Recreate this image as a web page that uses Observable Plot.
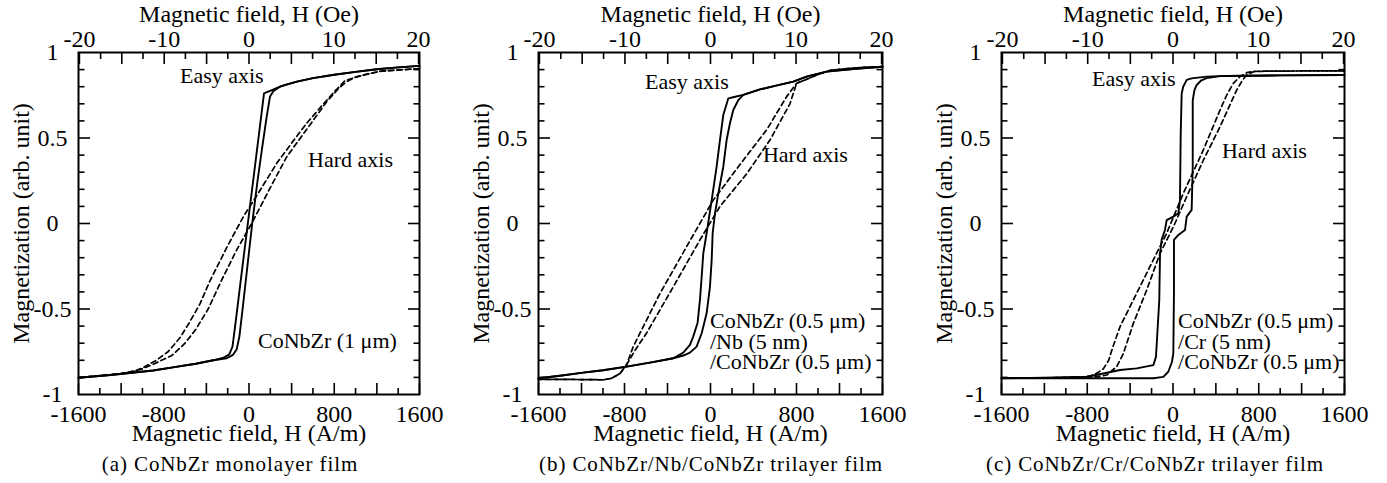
<!DOCTYPE html>
<html><head><meta charset="utf-8">
<script src="https://cdn.jsdelivr.net/npm/d3@7"></script>
<script src="https://cdn.jsdelivr.net/npm/@observablehq/plot@0.6"></script>
<style>
html,body{margin:0;padding:0;background:#fff;}
#wrap{position:relative;width:1387px;height:483px;overflow:hidden;background:#fff;}
.panel{position:absolute;top:0;}
.cap{position:absolute;top:454px;font-family:"Liberation Serif",serif;font-size:21px;line-height:21px;letter-spacing:0.9px;white-space:nowrap;transform:translateX(-50%);color:#000;}
</style></head><body><div id="wrap"></div>
<script>
// ---------- axis text ----------
const xTitleBottom = "Magnetic field, H (A/m)";
const xTitleTop = "Magnetic field, H (Oe)";
const yTitle = "Magnetization (arb. unit)";
const OE = 1000 / (4 * Math.PI); // A/m per Oe

const bottomLabels = [-1600, -800, 0, 800, 1600];
const bottomMajor = [-1600, -1200, -800, -400, 0, 400, 800, 1200, 1600];
const bottomMinor = [-1400, -1000, -600, -200, 200, 600, 1000, 1400];
const topLabels = [-20, -10, 0, 10, 20];
const topMajor = [-20, -15, -10, -5, 0, 5, 10, 15, 20];
const topMinor = [-17.5, -12.5, -7.5, -2.5, 2.5, 7.5, 12.5, 17.5];
const yLabels = [-1, -0.5, 0, 0.5, 1];
const yMajor = [-0.5, 0, 0.5];
const yMinor = [-0.9, -0.8, -0.7, -0.6, -0.4, -0.3, -0.2, -0.1, 0.1, 0.2, 0.3, 0.4, 0.6, 0.7, 0.8, 0.9];

// ---------- panel (a) CoNbZr monolayer: [H (A/m), M] ----------
const aEasyDown = [[1600,0.922],[1400,0.913],[1200,0.902],[1000,0.887],[800,0.870],[600,0.850],[450,0.830],[350,0.812],[291,0.800],[220,0.782],[141,0.761],[93,0.52],[45,0.28],[-11,0],[-83,-0.36],[-120,-0.55],[-155,-0.72],[-185,-0.765],[-240,-0.785],[-335,-0.80],[-500,-0.82],[-700,-0.84],[-900,-0.86],[-1100,-0.873],[-1300,-0.886],[-1600,-0.902]];
const aEasyUp = [[-1600,-0.902],[-1300,-0.886],[-1100,-0.873],[-900,-0.86],[-700,-0.84],[-500,-0.82],[-335,-0.80],[-209,-0.788],[-150,-0.768],[-115,-0.735],[-90,-0.66],[-60,-0.50],[-15,-0.25],[30,0],[80,0.25],[125,0.45],[165,0.62],[197,0.742],[230,0.775],[291,0.80],[350,0.812],[450,0.830],[600,0.850],[800,0.870],[1000,0.887],[1200,0.902],[1400,0.913],[1600,0.922]];
const aHardDown = [[1600,0.905],[1400,0.898],[1230,0.89],[1100,0.872],[1000,0.856],[901,0.835],[800,0.77],[700,0.70],[541,0.586],[400,0.47],[260,0.352],[100,0.19],[-53,0.04],[-200,-0.13],[-370,-0.34],[-460,-0.47],[-560,-0.58],[-650,-0.67],[-760,-0.75],[-870,-0.80],[-1000,-0.845],[-1070,-0.862],[-1200,-0.878],[-1400,-0.89],[-1600,-0.902]];
const aHardUp = [[-1600,-0.902],[-1400,-0.89],[-1200,-0.878],[-1070,-0.862],[-1000,-0.85],[-870,-0.815],[-720,-0.77],[-600,-0.70],[-500,-0.62],[-383,-0.50],[-256,-0.33],[-120,-0.16],[25,0],[200,0.21],[354,0.39],[541,0.55],[729,0.712],[840,0.79],[917,0.83],[1000,0.856],[1100,0.872],[1230,0.89],[1400,0.898],[1600,0.905]];
const aNotes = [
  {H: -648, M: 0.822, label: "Easy axis"},
  {H: 554, M: 0.333, label: "Hard axis"},
  {H: 84, M: -0.728, label: "CoNbZr (1 μm)"}
];

// ---------- panel (b) CoNbZr/Nb/CoNbZr ----------
const bEasyDown = [[1600,0.917],[1350,0.905],[1081,0.888],[900,0.86],[770,0.83],[600,0.805],[460,0.784],[305,0.752],[220,0.74],[166,0.732],[119,0.634],[88,0.488],[57,0.332],[11,0.137],[-36,-0.057],[-67,-0.174],[-82,-0.311],[-98,-0.447],[-120,-0.58],[-160,-0.66],[-191,-0.71],[-253,-0.755],[-346,-0.788],[-550,-0.812],[-780,-0.837],[-1000,-0.858],[-1183,-0.872],[-1400,-0.89],[-1600,-0.905]];
const bEasyUp = [[-1600,-0.905],[-1400,-0.89],[-1183,-0.872],[-1000,-0.858],[-780,-0.837],[-550,-0.812],[-346,-0.788],[-253,-0.772],[-191,-0.755],[-129,-0.72],[-82,-0.642],[-36,-0.525],[-5,-0.37],[11,-0.213],[20,-0.057],[42,0.06],[73,0.176],[119,0.332],[150,0.488],[181,0.586],[212,0.664],[259,0.722],[305,0.752],[460,0.784],[600,0.805],[770,0.83],[900,0.86],[1081,0.888],[1350,0.905],[1600,0.917]];
const bHardDown = [[1600,0.917],[1422,0.913],[1250,0.905],[1112,0.895],[1000,0.872],[900,0.845],[801,0.82],[708,0.742],[522,0.547],[305,0.37],[26,0.137],[-222,-0.135],[-471,-0.41],[-719,-0.72],[-780,-0.825],[-841,-0.877],[-920,-0.905],[-996,-0.914],[-1300,-0.912],[-1600,-0.911]];
const bHardUp = [[-1600,-0.911],[-1300,-0.912],[-996,-0.914],[-920,-0.905],[-841,-0.877],[-780,-0.825],[-700,-0.74],[-594,-0.64],[-346,-0.37],[-98,-0.096],[88,0.1],[336,0.29],[553,0.488],[739,0.70],[801,0.82],[900,0.845],[1000,0.872],[1112,0.895],[1250,0.905],[1422,0.913],[1600,0.917]];
const bNotes = [
  {H: -609, M: 0.787, label: "Easy axis"},
  {H: 488, M: 0.36, label: "Hard axis"},
  {H: -5, M: -0.851, label: "CoNbZr (0.5 μm)\n/Nb (5 nm)\n/CoNbZr (0.5 μm)"}
];

// ---------- panel (c) CoNbZr/Cr/CoNbZr ----------
const cEasyDown = [[1600,0.868],[1000,0.866],[600,0.863],[439,0.862],[314,0.859],[174,0.849],[128,0.84],[95,0.80],[81,0.76],[72,0.527],[65,0.137],[50,0.06],[3,0.04],[-59,0.02],[-75,-0.038],[-106,-0.096],[-121,-0.175],[-128,-0.447],[-146,-0.642],[-159,-0.78],[-183,-0.828],[-339,-0.847],[-494,-0.857],[-650,-0.877],[-805,-0.896],[-1200,-0.902],[-1600,-0.905]];
const cEasyUp = [[-1600,-0.905],[-1200,-0.905],[-800,-0.905],[-400,-0.905],[-184,-0.905],[-90,-0.897],[-44,-0.867],[-10,-0.81],[3,-0.76],[9,-0.40],[9,-0.096],[50,-0.067],[112,-0.038],[128,0.04],[174,0.08],[184,0.33],[184,0.72],[200,0.78],[221,0.81],[260,0.835],[314,0.85],[439,0.862],[600,0.864],[1000,0.866],[1600,0.868]];
const cHardDown = [[1600,0.892],[1200,0.892],[900,0.891],[751,0.89],[688,0.882],[625,0.859],[563,0.82],[500,0.75],[439,0.664],[283,0.43],[96,0.176],[-59,-0.057],[-184,-0.213],[-339,-0.408],[-494,-0.603],[-560,-0.72],[-600,-0.80],[-650,-0.85],[-700,-0.872],[-774,-0.893],[-900,-0.9],[-1200,-0.903],[-1600,-0.905]];
const cHardUp = [[-1600,-0.905],[-1200,-0.903],[-900,-0.9],[-700,-0.895],[-618,-0.886],[-525,-0.837],[-463,-0.76],[-370,-0.584],[-246,-0.39],[-121,-0.175],[3,-0.02],[128,0.157],[283,0.37],[439,0.566],[594,0.78],[650,0.84],[688,0.868],[751,0.888],[900,0.891],[1200,0.892],[1600,0.892]];
const cNotes = [
  {H: -756, M: 0.804, label: "Easy axis"},
  {H: 457, M: 0.383, label: "Hard axis"},
  {H: 47, M: -0.851, label: "CoNbZr (0.5 μm)\n/Cr (5 nm)\n/CoNbZr (0.5 μm)"}
];

const captions = ["(a) CoNbZr monolayer film", "(b) CoNbZr/Nb/CoNbZr trilayer film", "(c) CoNbZr/Cr/CoNbZr trilayer film"];

const panels = [
  {left: 0, width: 460, mL: 78, mR: 41, easy: [aEasyDown, aEasyUp], hard: [aHardDown, aHardUp], notes: aNotes, cap: captions[0], capX: 230},
  {left: 460, width: 460, mL: 78, mR: 38, easy: [bEasyDown, bEasyUp], hard: [bHardDown, bHardUp], notes: bNotes, cap: captions[1], capX: 711},
  {left: 920, width: 467, mL: 81, mR: 43, easy: [cEasyDown, cEasyUp], hard: [cHardDown, cHardUp], notes: cNotes, cap: captions[2], capX: 1155}
];

const FONT = "'Liberation Serif', 'Times New Roman', serif";
const wrap = document.getElementById("wrap");

for (const p of panels) {
  const lineOpts = {x: d => d[0], y: d => d[1], stroke: "#000"};
  const tk = {fill: "none", stroke: "#000", strokeWidth: 1.6, label: null};
  const chart = Plot.plot({
    width: p.width,
    height: 452,
    marginLeft: p.mL,
    marginRight: p.mR,
    marginTop: 52,
    marginBottom: 58,
    x: {domain: [-1600, 1600]},
    y: {domain: [-1, 1]},
    style: {fontFamily: FONT, fontSize: "24px", color: "#000", background: "#fff", overflow: "visible"},
    marks: [
      ...p.hard.map(h => Plot.line(h, {...lineOpts, strokeWidth: 1.7, strokeDasharray: "5,3.5"})),
      ...p.easy.map(e => Plot.line(e, {...lineOpts, strokeWidth: 1.9})),
      Plot.axisX(bottomMajor, {...tk, anchor: "bottom", tickSize: -11}),
      Plot.axisX(bottomMinor, {...tk, anchor: "bottom", tickSize: -6}),
      Plot.axisX(topMajor.map(o => o * OE), {...tk, anchor: "top", tickSize: -11}),
      Plot.axisX(topMinor.map(o => o * OE), {...tk, anchor: "top", tickSize: -6}),
      Plot.axisY(yMajor, {...tk, anchor: "left", tickSize: -12}),
      Plot.axisY(yMinor, {...tk, anchor: "left", tickSize: -6.5}),
      Plot.axisY(yMajor, {...tk, anchor: "right", tickSize: -12}),
      Plot.axisY(yMinor, {...tk, anchor: "right", tickSize: -6.5}),
      Plot.axisX(bottomLabels, {anchor: "bottom", tickSize: 0, tickPadding: 10, tickFormat: d => String(d), label: null, fontSize: 24}),
      Plot.axisX(topLabels.map(o => o * OE), {anchor: "top", tickSize: 0, tickPadding: 6, tickFormat: d => String(Math.round(d / OE)), label: null, fontSize: 24}),
      Plot.axisY(yLabels, {anchor: "left", tickSize: 0, tickPadding: 26, textAnchor: "middle", tickFormat: d => String(d), label: null, fontSize: 24}),
      Plot.frame({stroke: "#000", strokeWidth: 2}),
      Plot.text([xTitleBottom], {text: d => d, frameAnchor: "bottom", dy: 46, lineAnchor: "bottom", textAnchor: "middle", fontSize: 24}),
      Plot.text([xTitleTop], {text: d => d, frameAnchor: "top", dy: -30.8, lineAnchor: "bottom", textAnchor: "middle", fontSize: 24}),
      Plot.text([yTitle], {text: d => d, frameAnchor: "left", dx: -49.5, rotate: -90, lineAnchor: "bottom", textAnchor: "middle", fontSize: 24}),
      Plot.text(p.notes, {x: "H", y: "M", text: "label", textAnchor: "start", lineAnchor: "bottom", fontSize: 22, lineHeight: 0.93, fill: "#000"})
    ]
  });
  const div = document.createElement("div");
  div.className = "panel";
  div.style.left = p.left + "px";
  div.style.width = p.width + "px";
  div.appendChild(chart);
  wrap.appendChild(div);
  const cap = document.createElement("div");
  cap.className = "cap";
  cap.style.left = p.capX + "px";
  cap.textContent = p.cap;
  wrap.appendChild(cap);
}
</script></body></html>
